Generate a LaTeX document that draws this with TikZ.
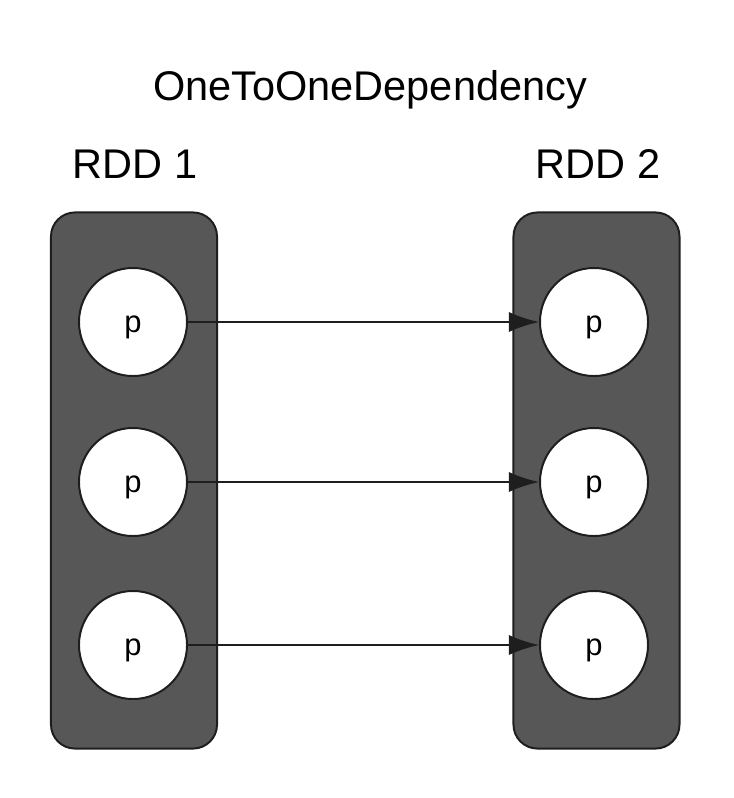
\documentclass[tikz,border=0pt]{standalone}
\usepackage{fontspec}
\setmainfont{Liberation Sans}
\usepackage{xcolor}
\usepackage{tikz}
\usetikzlibrary{
    arrows.meta,
    calc
}
\definecolor{rddgray}{HTML}{575757}
\definecolor{rddline}{HTML}{1E1E1E}
\tikzstyle{arrow}=[line width=1.4pt,-{Latex[length=0.75cm,width=0.5cm]},draw=rddline]

\begin{document}
\begin{tikzpicture}[
    x=0.025cm,
    y=-0.025cm,
    rdd/.style={
        rectangle,
        rounded corners=0.6cm,
        draw=rddline,
        fill=rddgray,
        line width=1.4pt,
        minimum width=4.15cm,
        minimum height=13.4cm
    },
    part/.style={
        circle,
        draw=rddline,
        fill=white,
        line width=1.4pt,
        minimum size=2.7cm,
        inner sep=0pt,
        text height=15pt,
        text depth=0pt,
        font=\fontsize{22}{24}\selectfont
    },
    label/.style={
        inner sep=0pt,
        anchor=base,
        font=\fontsize{29.5}{34}\selectfont
    }
]
\useasboundingbox (0,0) rectangle (734,798);

\node[label] (title) at (370,100) {OneToOneDependency};
\node[label] (rddonelabel) at (135,178) {RDD 1};
\node[label] (rddtwolabel) at (598,178) {RDD 2};

\node[rdd] (rddone) at (134,480.5) {};
\node[rdd] (rddtwo) at (596.5,480.5) {};

% partitions
\node[part] (p1) at (133,322) {p};
\node[part] (p2) at (133,482) {p};
\node[part] (p3) at (133,645) {p};
\node[part] (q1) at (594,322) {p};
\node[part] (q2) at (594,482) {p};
\node[part] (q3) at (594,645) {p};

\draw[arrow] (p1) -- (q1);
\draw[arrow] (p2) -- (q2);
\draw[arrow] (p3) -- (q3);
\end{tikzpicture}
\end{document}
